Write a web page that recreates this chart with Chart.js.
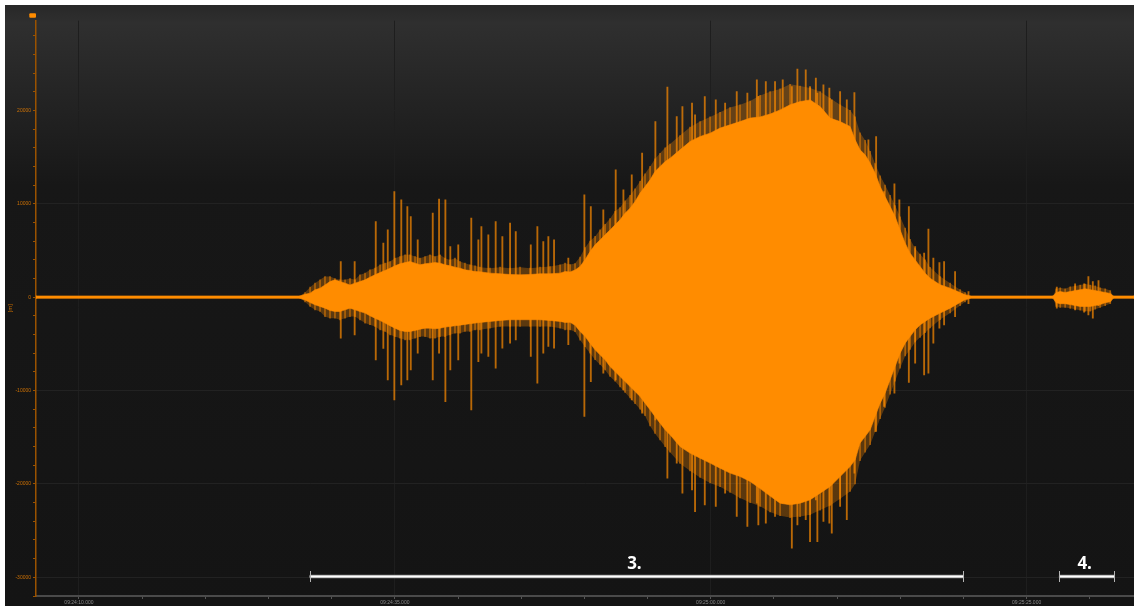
<!DOCTYPE html>
<html>
<head>
<meta charset="utf-8">
<script src="https://cdn.jsdelivr.net/npm/chart.js@4/dist/chart.umd.min.js"></script>
<style>
  html, body { margin: 0; padding: 0; background: #ffffff; width: 1134px; height: 606px; overflow: hidden; }
  #wrap { position: absolute; left: 5px; top: 5px; width: 1129px; height: 601px; }
</style>
</head>
<body>
<div id="wrap"><canvas id="c"></canvas></div>
<script>
// Time axis: seconds after 09:24:00.000
const times = [
  6.6, 27.49, 27.89, 28.29, 28.68, 29.08, 29.47, 29.87, 30.26, 30.66,
  31.06, 31.45, 31.85, 32.24, 32.64, 33.03, 33.43, 33.83, 34.22, 34.62,
  35.01, 35.41, 35.81, 36.20, 36.60, 36.99, 37.39, 37.78, 38.18, 38.58,
  38.97, 39.37, 39.76, 40.16, 40.55, 40.95, 41.35, 41.74, 42.53, 43.33,
  44.12, 44.91, 45.70, 46.49, 47.28, 48.08, 48.47, 48.87, 49.26, 49.66,
  50.05, 50.45, 50.85, 51.24, 51.64, 52.03, 52.43, 52.82, 53.22, 53.62,
  54.01, 54.41, 54.80, 55.20, 55.59, 55.99, 56.39, 56.78, 57.57, 58.36,
  59.16, 59.95, 60.74, 61.53, 62.32, 63.12, 63.91, 64.70, 65.49, 66.28,
  67.07, 67.87, 68.66, 69.45, 70.24, 71.03, 71.43, 71.82, 72.22, 72.62,
  73.01, 73.41, 73.80, 74.20, 74.59, 74.99, 75.39, 75.78, 76.18, 76.57,
  76.97, 77.36, 78.16, 78.95, 79.74, 80.13, 80.53, 87.10, 87.34, 87.66,
  88.05, 88.45, 88.84, 89.24, 89.64, 90.03, 90.43, 90.82, 91.22, 91.62,
  91.85, 93.5
];

// Dense core of the oscillation (upper / lower envelope)
const coreHigh = [
  130, 130, 300, 430, 780, 960, 1300, 1670, 1850, 1670,
  1500, 1300, 1500, 1670, 1850, 2140, 2390, 2630, 2850, 3100,
  3350, 3570, 3700, 3810, 3640, 3460, 3570, 3640, 3700, 3640,
  3460, 3350, 3210, 3100, 2920, 2850, 2740, 2710, 2570, 2500,
  2420, 2390, 2420, 2500, 2500, 2570, 2740, 2700, 2900, 3280,
  4000, 4880, 5600, 6130, 6670, 7200, 7740, 8280, 8990, 9530,
  10240, 11140, 11840, 12560, 13450, 13980, 14520, 14880, 15770, 16660,
  17200, 17560, 18100, 18450, 18800, 19170, 19300, 19600, 20050, 20590,
  20940, 21120, 20400, 19170, 18800, 18270, 16840, 15770, 15240, 14350,
  13280, 11840, 10770, 9700, 8630, 7200, 5780, 4710, 3990, 3280,
  2570, 2030, 1320, 960, 490, 250, 130, 130, 500, 600,
  500, 600, 700, 800, 900, 800, 700, 600, 500, 400,
  130, 130
];
const coreLow = [
  -130, -130, -300, -580, -820, -1000, -1180, -1430, -1540, -1540,
  -1360, -1180, -1360, -1540, -1710, -2000, -2250, -2500, -2780, -3070,
  -3320, -3570, -3680, -3680, -3570, -3430, -3320, -3320, -3390, -3320,
  -3210, -3140, -3070, -3000, -2920, -2850, -2780, -2710, -2600, -2500,
  -2420, -2420, -2420, -2420, -2500, -2600, -2710, -2700, -3000, -3680,
  -4200, -4930, -5640, -6180, -6710, -7430, -7970, -8500, -9040, -9570,
  -10100, -10640, -11350, -12070, -12780, -13490, -14200, -14740, -16000, -16700,
  -17240, -17770, -18310, -18840, -19200, -19740, -20500, -21300, -22060, -22240,
  -22060, -21700, -20990, -20280, -19210, -18140, -17420, -15630, -14920, -14210,
  -12780, -11350, -10280, -8850, -7430, -6000, -4930, -4220, -3500, -2970,
  -2610, -2250, -1710, -1180, -570, -290, -130, -130, -600, -700,
  -700, -800, -900, -1000, -1000, -1000, -900, -800, -600, -500,
  -130, -130
];

// Outer, sparser fringe of the oscillation
const edgeHigh = [
  130, 130, 500, 1070, 1500, 1850, 2200, 2200, 2000, 1850,
  1850, 2000, 1850, 2390, 2570, 2920, 3100, 3460, 3640, 3810,
  4170, 4350, 4530, 4530, 4350, 4170, 4350, 4530, 4350, 4530,
  4170, 3990, 4170, 3810, 3640, 3460, 3350, 3210, 3100, 3210,
  3100, 3210, 3100, 3210, 3280, 3460, 3640, 3500, 3600, 4300,
  5300, 6000, 6500, 7200, 7800, 8400, 9200, 9600, 10300, 10900,
  11600, 12400, 13200, 14000, 14800, 15400, 16000, 16400, 17300, 18200,
  18800, 19300, 19800, 20300, 20600, 21000, 21600, 22000, 22300, 22800,
  22600, 22400, 22000, 21300, 20600, 20000, 19300, 17600, 16800, 15600,
  14300, 13000, 12000, 10900, 9800, 8600, 7400, 6200, 5200, 4600,
  4000, 3200, 2200, 1500, 800, 500, 130, 130, 900, 1000,
  900, 1100, 1200, 1300, 1400, 1300, 1200, 1000, 900, 700,
  130, 130
];
const edgeLow = [
  -130, -130, -500, -1000, -1360, -1540, -2080, -2250, -2250, -2430,
  -2250, -2080, -2080, -2430, -2780, -2960, -3140, -3500, -3680, -4040,
  -4220, -4390, -4570, -4570, -4390, -4220, -4220, -4390, -4390, -4220,
  -4220, -4040, -3860, -3860, -3680, -3680, -3500, -3500, -3320, -3140,
  -3140, -3140, -3140, -3140, -3140, -3320, -3500, -3500, -3700, -4600,
  -5300, -6000, -6700, -7200, -7800, -8500, -9000, -9600, -10200, -10800,
  -11400, -12000, -12700, -13800, -14600, -15300, -16000, -16600, -17800, -18600,
  -19300, -19900, -20300, -20900, -21500, -22000, -22400, -23000, -23400, -23600,
  -23500, -23300, -22800, -22300, -21600, -20800, -20000, -17500, -16600, -15800,
  -14400, -13000, -11800, -10400, -9000, -7600, -6300, -5600, -4800, -4300,
  -3800, -3300, -2400, -1700, -900, -500, -130, -130, -1000, -1100,
  -1100, -1200, -1300, -1400, -1500, -1500, -1300, -1100, -900, -700,
  -130, -130
];

// Isolated peaks reaching past the envelope
const spikeTimes = [
  30.72, 31.82, 33.49, 34.09, 34.44, 34.96, 35.51, 35.99, 36.26, 36.81,
  38.00, 38.50, 39.00, 39.39, 40.02, 41.05, 41.61, 41.85, 42.40, 42.98,
  43.51, 44.12, 44.57, 45.76, 46.28, 46.75, 47.15, 47.60, 48.73,
  50.00, 50.51, 51.50, 52.48, 53.09, 53.75, 54.57, 55.62, 56.57, 57.31,
  57.76, 58.52, 58.76, 59.53, 60.40, 61.14, 62.06, 62.90, 63.65, 63.77,
  64.36, 65.09, 65.70, 66.42, 66.86, 67.52, 67.86, 68.32, 68.44, 68.92,
  69.39, 69.58, 70.24, 70.77, 71.37, 72.48, 73.09, 73.72, 74.54, 74.93,
  75.68, 76.18, 76.89, 77.23, 77.62, 78.10, 78.47, 79.34, 80.40,
  87.39, 88.84, 89.55, 89.89, 90.24, 90.69
];
const spikeHigh = [
  3810, 3810, 8090, 5780, 7200, 11310, 10420, 9700, 8630, 6130,
  8990, 10490, 10420, 5420, 5600, 8460, 6130, 7560, 6670, 8090,
  6490, 7920, 7020, 5600, 7560, 5950, 6490, 6130, 4170,
  10950, 9700, 9350, 13630, 11490, 13100, 15420, 18800, 22480, 19340,
  20410, 20770, 19520, 21480, 21120, 20770, 22010, 21840, 23270, 21500,
  23080, 23080, 23270, 22550, 24410, 24340, 22550, 23450, 21840, 22730,
  22380, 21120, 22010, 21120, 21910, 16840, 17200, 11310, 12130, 10420,
  9700, 5420, 4710, 7280, 4170, 3700, 3810, 2740, 600,
  1070, 1420, 1420, 2200, 1670, 1780
];
const spikeLow = [
  -4390, -4040, -6710, -5500, -8850, -11000, -9390, -8850, -7780, -6000,
  -8850, -6000, -11180, -7780, -6710, -12070, -6900, -6000, -6360, -7600,
  -5460, -4930, -4570, -6360, -9210, -6000, -5280, -5460, -5100,
  -12780, -9040, -8140, -8850, -9930, -11000, -12420, -13140, -19380, -17770,
  -20990, -20630, -22960, -22240, -22420, -20990, -23490, -24560, -22060, -24380,
  -24200, -23490, -22060, -26870, -24380, -23840, -26170, -21700, -26170, -24020,
  -24200, -25270, -22420, -23840, -18840, -14030, -14390, -11710, -10280, -7070,
  -9140, -7070, -8320, -8140, -4930, -3320, -2970, -2080, -700,
  -1180, -1360, -1600, -1900, -2250, -900
];

// Axis labels
const xLabelTimes = [10, 35, 60, 85];
const yLabelValues = [-30000, -20000, -10000, 0, 10000, 20000];

// Marked intervals along the bottom
const segmentStart = [28.26, 87.56];
const segmentEnd = [79.98, 91.95];
const segmentNames = ['3.', '4.'];
const segmentLevel = -30000;

const ORANGE = '#ff8c00';

function clock(sec) {
  const m = 24 + Math.floor(sec / 60);
  const s = sec % 60;
  return '09:' + String(m).padStart(2, '0') + ':' + String(s).padStart(2, '0') + '.000';
}
const pts = (ys) => times.map((t, i) => ({ x: t, y: ys[i] }));

const backdrop = {
  id: 'backdrop',
  beforeDraw(chart) {
    const { ctx, width, height } = chart;
    const g = ctx.createLinearGradient(0, 0, 0, height);
    g.addColorStop(0, '#282828');
    g.addColorStop(0.03, '#2f2f2f');
    g.addColorStop(0.3, '#171717');
    g.addColorStop(1, '#141414');
    ctx.save();
    ctx.fillStyle = g;
    ctx.fillRect(0, 0, width, height);
    ctx.restore();
  }
};

const swatch = {
  id: 'swatch',
  afterDraw(chart) {
    const { ctx } = chart;
    ctx.save();
    ctx.fillStyle = ORANGE;
    ctx.beginPath();
    ctx.roundRect(24.3, 8.3, 6.7, 4.4, 1);
    ctx.fill();
    ctx.restore();
  }
};

const segments = {
  id: 'segments',
  afterDraw(chart) {
    const { ctx, scales: { x, y } } = chart;
    const yy = Math.round(y.getPixelForValue(segmentLevel)) - 0.5;
    segmentStart.forEach((s, i) => {
      const x0 = x.getPixelForValue(s);
      const x1 = x.getPixelForValue(segmentEnd[i]);
      ctx.save();
      ctx.lineCap = 'butt';
      ctx.strokeStyle = '#8a8a8a';
      ctx.lineWidth = 3.5;
      ctx.beginPath(); ctx.moveTo(x0, yy); ctx.lineTo(x1, yy); ctx.stroke();
      ctx.strokeStyle = '#ffffff';
      ctx.lineWidth = 1.8;
      ctx.beginPath(); ctx.moveTo(x0, yy); ctx.lineTo(x1, yy); ctx.stroke();
      ctx.strokeStyle = '#b4b4b4';
      ctx.lineWidth = 1;
      ctx.beginPath();
      ctx.moveTo(Math.round(x0) + 0.5, yy - 5.5); ctx.lineTo(Math.round(x0) + 0.5, yy + 5.5);
      ctx.moveTo(Math.round(x1) + 0.5, yy - 5.5); ctx.lineTo(Math.round(x1) + 0.5, yy + 5.5);
      ctx.stroke();
      ctx.fillStyle = '#ffffff';
      ctx.font = 'bold 17px "Open Sans", "Liberation Sans", sans-serif';
      ctx.textAlign = 'center';
      ctx.textBaseline = 'alphabetic';
      ctx.fillText(segmentNames[i], (x0 + x1) / 2 - 2, yy - 8);
      ctx.restore();
    });
  }
};

new Chart(document.getElementById('c'), {
  type: 'line',
  data: {
    datasets: [
      { label: 'edgeHigh', data: pts(edgeHigh), fill: '+1', backgroundColor: 'rgba(255,140,0,0.30)',
        borderColor: 'transparent', borderWidth: 0, pointRadius: 0, order: 5 },
      { label: 'edgeLow', data: pts(edgeLow), fill: false,
        borderColor: 'transparent', borderWidth: 0, pointRadius: 0, order: 5 },
      { type: 'bar', label: 'edgeStrokes', grouped: false, barThickness: 1,
        data: times.map((t, i) => ({ x: t, y: [edgeLow[i], edgeHigh[i]] })),
        backgroundColor: 'rgba(255,140,0,0.5)', borderWidth: 0, order: 4 },
      { type: 'bar', label: 'spikes', grouped: false, barThickness: 1.2,
        data: spikeTimes.map((t, i) => ({ x: t, y: [spikeLow[i], spikeHigh[i]] })),
        backgroundColor: 'rgba(255,140,0,0.7)', borderWidth: 0, order: 3 },
      { label: 'signal', data: pts(coreHigh), fill: '+1', backgroundColor: ORANGE,
        borderColor: ORANGE, borderWidth: 0.6, pointRadius: 0, order: 1 },
      { label: 'signalLow', data: pts(coreLow), fill: false,
        borderColor: ORANGE, borderWidth: 0.6, pointRadius: 0, order: 1 }
    ]
  },
  options: {
    responsive: true,
    maintainAspectRatio: false,
    animation: false,
    layout: { padding: { top: 15.7, left: 0, right: 0, bottom: 0 } },
    plugins: { legend: { display: false }, tooltip: { enabled: false } },
    scales: {
      x: {
        type: 'linear', min: 6.6, max: 93.5, offset: false,
        afterBuildTicks(s) { s.ticks = []; for (let v = 10; v <= s.max; v += 5) s.ticks.push({ value: v }); },
        afterFit(s) { s.height = 10; },
        ticks: {
          autoSkip: false, maxRotation: 0, padding: 1, color: '#8a8a8a',
          font: { family: 'Liberation Sans', size: 5 },
          callback: (v) => xLabelTimes.includes(v) ? clock(v) : ''
        },
        grid: {
          offset: false,
          color: (c) => (c.tick && xLabelTimes.includes(c.tick.value)) ? '#1e1e1e' : 'transparent',
          tickColor: '#555555', tickLength: 3
        },
        border: { color: '#4a4a4a', width: 2 }
      },
      y: {
        min: -32000, max: 29600,
        afterBuildTicks(s) { s.ticks = []; for (let v = -32000; v <= 28000; v += 2000) s.ticks.push({ value: v }); },
        afterFit(s) { s.width = 31; },
        ticks: {
          autoSkip: false, padding: 2, color: 'rgba(235,128,0,0.85)',
          font: { family: 'Liberation Sans', size: 5 },
          callback: (v) => yLabelValues.includes(v) ? String(v) : ''
        },
        grid: {
          color: (c) => (c.tick && yLabelValues.includes(c.tick.value)) ? '#222222' : 'transparent',
          tickColor: '#9a5200', tickLength: 3
        },
        border: { color: '#9a5200', width: 1.5 },
        title: { display: true, text: '[m]', color: '#c06800',
          font: { family: 'Liberation Sans', size: 6 }, padding: { top: 2, bottom: 0 } }
      }
    }
  },
  plugins: [backdrop, swatch, segments]
});
</script>
</body>
</html>
